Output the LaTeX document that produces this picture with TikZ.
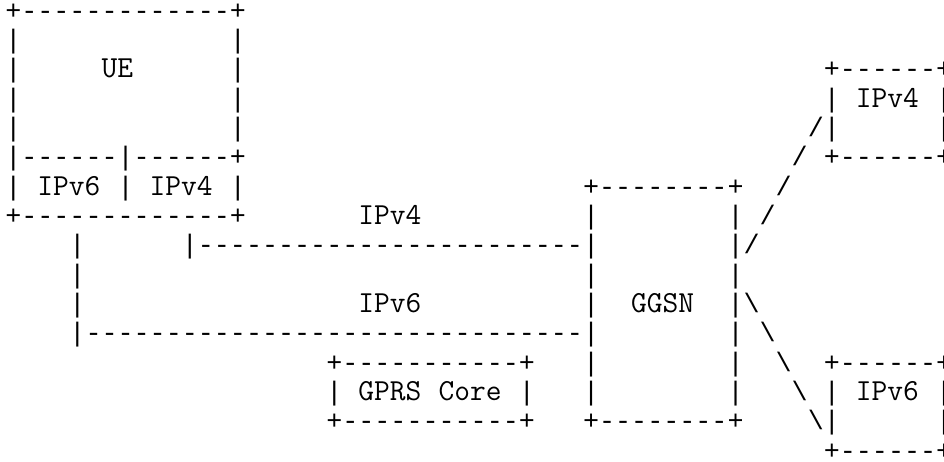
\documentclass[tikz,border=0pt]{standalone}
\usepackage{fontspec}
\newfontfamily\ascfont{Liberation Mono}
\newfontfamily\wrdfont{Latin Modern Mono}
\ExplSyntaxOn
\cs_new:Npn \dd #1 { \prg_replicate:nn {#1} { - \kern0pt } }
\ExplSyntaxOff
\newcommand\cellat[4]{\node[cell] (#3) at ({3.96+12.0375*#1},{-14.25-22.0125*#2}) {#4};}
\newcommand\wordat[4]{\node[word] (#3) at ({3.96+12.0375*#1},{-14.25-22.0125*#2}) {#4};}
\begin{document}
\begin{tikzpicture}[x=1pt,y=1pt,
  cell/.style={anchor=base west, inner sep=0pt, outer sep=0pt, font=\ascfont\fontsize{20.06pt}{22pt}\selectfont},
  word/.style={anchor=base west, inner sep=0pt, outer sep=0pt, font=\wrdfont\fontsize{22.93pt}{24pt}\selectfont}]
\fill[white] (0,0) rectangle (708,-345.75);
\useasboundingbox (0,0) rectangle (708,-345.75);
% row 0
\cellat{0}{0}{ueTop}{+\dd{13}+}
% row 1
\cellat{0}{1}{rAa}{|}\cellat{14}{1}{rAb}{|}
% row 2
\cellat{0}{2}{rBa}{|}\wordat{6}{2}{ue}{UE}\cellat{14}{2}{rBb}{|}\cellat{51}{2}{vfTop}{+\dd{6}+}
% row 3
\cellat{0}{3}{rCa}{|}\cellat{14}{3}{rCb}{|}\cellat{51}{3}{rCc}{|}\wordat{53}{3}{vfText}{IPv4}\cellat{58}{3}{rCd}{|}
% row 4
\cellat{0}{4}{rDa}{|}\cellat{14}{4}{rDb}{|}\cellat{50}{4}{rDc}{/|}\cellat{58}{4}{rDd}{|}
% row 5
\cellat{0}{5}{ueMid}{|\dd{6}|\dd{6}+}\cellat{49}{5}{rEa}{/}\cellat{51}{5}{vfBot}{+\dd{6}+}
% row 6
\cellat{0}{6}{rFa}{|}\wordat{2}{6}{ueSix}{IPv6}\cellat{7}{6}{rFb}{|}\wordat{9}{6}{ueFour}{IPv4}\cellat{14}{6}{rFc}{|}\cellat{36}{6}{ggTop}{+\dd{8}+}\cellat{48}{6}{rFd}{/}
% row 7
\cellat{0}{7}{ueBot}{+\dd{13}+}\wordat{22}{7}{lnFour}{IPv4}\cellat{36}{7}{rGa}{|}\cellat{45}{7}{rGb}{|}\cellat{47}{7}{rGc}{/}
% row 8
\cellat{4}{8}{rHa}{|}\cellat{11}{8}{linkFour}{|\dd{24}|}\cellat{45}{8}{rHb}{|/}
% row 9
\cellat{4}{9}{rIa}{|}\cellat{36}{9}{rIb}{|}\cellat{45}{9}{rIc}{|}
% row 10
\cellat{4}{10}{rJa}{|}\wordat{22}{10}{lnSix}{IPv6}\cellat{36}{10}{rJb}{|}\wordat{39}{10}{ggsn}{GGSN}\cellat{45}{10}{rJc}{|\textbackslash}
% row 11
\cellat{4}{11}{linkSix}{|\dd{31}|}\cellat{45}{11}{rKa}{|}\cellat{47}{11}{rKb}{\textbackslash}
% row 12
\cellat{20}{12}{gpTop}{+\dd{11}+}\cellat{36}{12}{rLa}{|}\cellat{45}{12}{rLb}{|}\cellat{48}{12}{rLc}{\textbackslash}\cellat{51}{12}{vsTop}{+\dd{6}+}
% row 13
\cellat{20}{13}{rMa}{|}\wordat{22}{13}{gpText}{GPRS}\wordat{27}{13}{gpCore}{Core}\cellat{32}{13}{rMb}{|}\cellat{36}{13}{rMc}{|}\cellat{45}{13}{rMd}{|}\cellat{49}{13}{rMe}{\textbackslash}\cellat{51}{13}{rMf}{|}\wordat{53}{13}{vsText}{IPv6}\cellat{58}{13}{rMg}{|}
% row 14
\cellat{20}{14}{gpBot}{+\dd{11}+}\cellat{36}{14}{ggBot}{+\dd{8}+}\cellat{50}{14}{rNa}{\textbackslash|}\cellat{58}{14}{rNb}{|}
% row 15
\cellat{51}{15}{vsBot}{+\dd{6}+}
\end{tikzpicture}
\end{document}
